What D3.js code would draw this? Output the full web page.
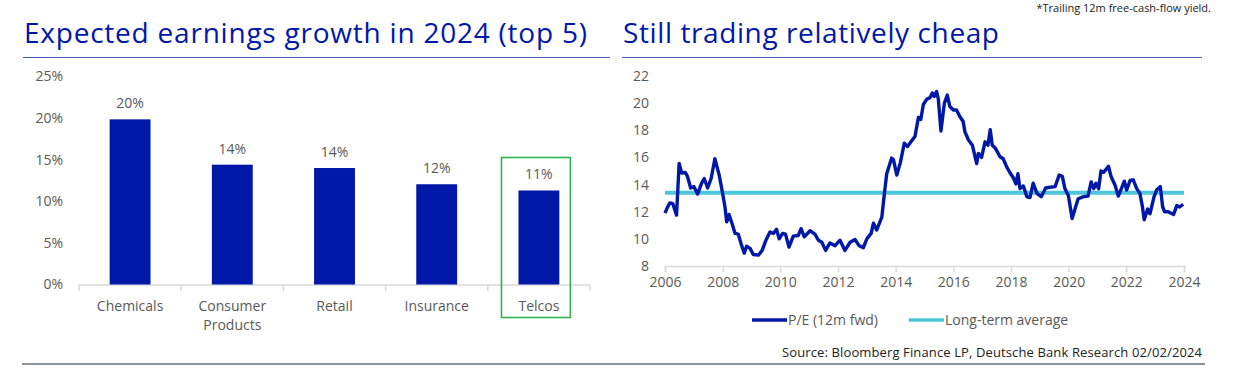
<!DOCTYPE html>
<html>
<head>
<meta charset="utf-8">
<script src="https://cdn.jsdelivr.net/npm/d3@7"></script>
<style>
  body { margin: 0; background: #fff; }
  text { font-family: "Open Sans", "Noto Sans", sans-serif; }
</style>
</head>
<body>
<div id="chart-area"></div>
<script>
// left chart data
var sectors = ['Chemicals', 'Consumer Products', 'Retail', 'Insurance', 'Telcos']
var growth = [19.85, 14.4, 14.0, 12.05, 11.3]
var growthTicks = [0, 5, 10, 15, 20, 25]

// right chart data (P/E 12m fwd)
var peYears = [2006.00, 2006.08, 2006.17, 2006.27, 2006.40, 2006.49, 2006.58, 2006.70, 2006.78, 2006.89,
  2007.00, 2007.13, 2007.27, 2007.36, 2007.48, 2007.60, 2007.73, 2007.88, 2007.99, 2008.08,
  2008.14, 2008.22, 2008.33, 2008.43, 2008.54, 2008.66, 2008.75, 2008.83, 2008.95, 2009.06,
  2009.24, 2009.37, 2009.50, 2009.64, 2009.76, 2009.87, 2009.96, 2010.08, 2010.18, 2010.30,
  2010.45, 2010.62, 2010.72, 2010.83, 2011.03, 2011.20, 2011.32, 2011.44, 2011.57, 2011.72,
  2011.90, 2012.07, 2012.24, 2012.42, 2012.59, 2012.73, 2012.88, 2013.00, 2013.15, 2013.23,
  2013.34, 2013.52, 2013.61, 2013.69, 2013.86, 2013.92, 2014.04, 2014.16, 2014.30, 2014.41,
  2014.53, 2014.67, 2014.79, 2014.87, 2014.96, 2015.08, 2015.19, 2015.27, 2015.34, 2015.42,
  2015.48, 2015.57, 2015.69, 2015.79, 2015.88, 2016.00, 2016.11, 2016.23, 2016.34, 2016.40,
  2016.52, 2016.66, 2016.81, 2016.87, 2016.98, 2017.10, 2017.20, 2017.28, 2017.35, 2017.45,
  2017.62, 2017.73, 2017.85, 2017.97, 2018.08, 2018.17, 2018.24, 2018.31, 2018.43, 2018.55,
  2018.66, 2018.77, 2018.90, 2019.05, 2019.20, 2019.35, 2019.53, 2019.67, 2019.78, 2019.87,
  2019.99, 2020.12, 2020.24, 2020.33, 2020.50, 2020.67, 2020.78, 2020.87, 2020.95, 2021.04,
  2021.12, 2021.21, 2021.29, 2021.38, 2021.47, 2021.61, 2021.72, 2021.81, 2021.93, 2022.01,
  2022.13, 2022.24, 2022.36, 2022.47, 2022.56, 2022.62, 2022.74, 2022.82, 2022.96, 2023.05,
  2023.18, 2023.26, 2023.33, 2023.45, 2023.64, 2023.75, 2023.85, 2023.97]
var peValues = [11.9, 12.3, 12.65, 12.6, 11.75, 15.55, 14.85, 14.9, 14.6, 13.75,
  13.85, 13.3, 14.1, 14.45, 13.75, 14.45, 15.9, 14.7, 13.45, 12.35,
  11.25, 11.8, 11.1, 10.4, 10.35, 9.5, 8.95, 9.45, 9.3, 8.85,
  8.8, 9.15, 9.9, 10.5, 10.4, 10.7, 10.0, 10.4, 10.35, 9.4,
  10.2, 10.25, 10.75, 10.15, 10.6, 10.35, 9.9, 9.75, 9.15, 9.7,
  9.5, 9.9, 9.15, 9.75, 9.95, 9.5, 9.35, 10.0, 10.4, 11.15,
  10.65, 11.6, 13.35, 14.8, 15.95, 15.85, 14.7, 15.6, 17.05, 16.8,
  17.15, 17.55, 18.95, 18.8, 19.9, 20.3, 20.4, 20.75, 20.5, 20.85,
  20.3, 17.95, 20.0, 20.6, 19.75, 19.5, 19.5, 19.0, 18.65, 17.9,
  17.3, 16.9, 15.55, 16.3, 16.0, 17.15, 16.9, 18.05, 16.9, 16.7,
  16.05, 15.9, 15.3, 14.85, 14.5, 14.05, 14.8, 13.7, 13.9, 13.1,
  13.05, 14.1, 13.35, 13.1, 13.75, 13.8, 13.85, 14.7, 14.6, 13.7,
  13.2, 11.5, 12.35, 12.95, 13.1, 13.15, 14.2, 13.7, 14.1, 13.7,
  15.0, 14.9, 15.1, 15.35, 14.6, 13.95, 13.15, 13.6, 14.25, 13.6,
  14.3, 14.35, 13.7, 13.35, 12.35, 11.4, 12.2, 11.85, 13.1, 13.6,
  13.85, 12.35, 12.0, 12.0, 11.8, 12.45, 12.35, 12.55]
var longTermAvg = 13.4
var peTicks = [8, 10, 12, 14, 16, 18, 20, 22]
var yearTicks = [2006, 2008, 2010, 2012, 2014, 2016, 2018, 2020, 2022, 2024]

var blue = '#0018a8'
var teal = '#4cc7da'
var grey = '#595959'

var svg = d3.select('#chart-area').append('svg')
    .attr('width', 1233)
    .attr('height', 374)

svg.append('rect').attr('width', 1233).attr('height', 374).attr('fill', '#fff')

// titles + rules
svg.append('text')
    .attr('x', 24).attr('y', 43)
    .attr('fill', blue)
    .attr('textLength', 563)
    .attr('lengthAdjust', 'spacing')
    .style('font-size', '28px')
    .text('Expected earnings growth in 2024 (top 5)')
svg.append('text')
    .attr('x', 623).attr('y', 43)
    .attr('fill', blue)
    .attr('textLength', 376)
    .attr('lengthAdjust', 'spacing')
    .style('font-size', '28px')
    .text('Still trading relatively cheap')
svg.append('line').attr('x1', 23).attr('x2', 610).attr('y1', 57.5).attr('y2', 57.5)
    .attr('stroke', '#4458b8').attr('stroke-width', 1)
svg.append('line').attr('x1', 622).attr('x2', 1202).attr('y1', 57.5).attr('y2', 57.5)
    .attr('stroke', '#4458b8').attr('stroke-width', 1)
svg.append('line').attr('x1', 22).attr('x2', 1205).attr('y1', 364).attr('y2', 364)
    .attr('stroke', '#8e949c').attr('stroke-width', 2)

svg.append('text')
    .attr('x', 1211).attr('y', 12)
    .attr('text-anchor', 'end')
    .attr('fill', '#222')
    .style('font-size', '11px')
    .text('*Trailing 12m free-cash-flow yield.')

// ---- left: bar chart ----
var band = d3.scaleBand()
    .domain(sectors)
    .range([79, 590])
    .paddingInner(0.6)
    .paddingOuter(0.3)

var yLeft = d3.scaleLinear()
    .domain([0, 25])
    .range([284.5, 76.5])

var yAxisLeft = svg.append('g')
    .attr('transform', 'translate(66,0)')
    .call(d3.axisLeft(yLeft).tickValues(growthTicks).tickSize(0).tickFormat(d => d + '%'))
yAxisLeft.select('.domain').remove()
yAxisLeft.selectAll('text')
    .attr('fill', grey)
    .style('font-size', '14px')
    .style('font-family', '"Open Sans", sans-serif')

svg.append('line')
    .attr('x1', 79).attr('x2', 590)
    .attr('y1', 285).attr('y2', 285)
    .attr('stroke', '#d9d9d9').attr('stroke-width', 1.5)

svg.selectAll('.cat-tick')
    .data(d3.range(sectors.length + 1))
    .enter()
    .append('line')
    .attr('x1', d => 79 + d * band.step())
    .attr('x2', d => 79 + d * band.step())
    .attr('y1', 285).attr('y2', 291)
    .attr('stroke', '#d9d9d9').attr('stroke-width', 1.5)

svg.selectAll('.bar')
    .data(sectors)
    .enter()
    .append('rect')
    .attr('x', d => band(d))
    .attr('y', (d, i) => yLeft(growth[i]))
    .attr('width', band.bandwidth())
    .attr('height', (d, i) => yLeft(0) - yLeft(growth[i]))
    .attr('fill', blue)

svg.selectAll('.val')
    .data(sectors)
    .enter()
    .append('text')
    .attr('x', d => band(d) + band.bandwidth() / 2)
    .attr('y', (d, i) => yLeft(growth[i]) - 11)
    .attr('text-anchor', 'middle')
    .attr('fill', grey)
    .style('font-size', '14px')
    .text((d, i) => Math.round(growth[i]) + '%')

svg.selectAll('.cat')
    .data(sectors)
    .enter()
    .append('text')
    .attr('x', d => band(d) + band.bandwidth() / 2)
    .attr('y', 311)
    .attr('text-anchor', 'middle')
    .attr('fill', grey)
    .style('font-size', '14px')
    .each(function (d) {
        var words = d.split(' ')
        var t = d3.select(this)
        words.forEach((w, j) => {
            t.append('tspan').attr('x', band(d) + band.bandwidth() / 2)
                .attr('dy', j === 0 ? 0 : 19).text(w)
        })
    })

// highlight box around Telcos
var tel = sectors[4]
svg.append('rect')
    .attr('x', band(tel) - 17)
    .attr('y', 157.5)
    .attr('width', band.bandwidth() + 28)
    .attr('height', 160)
    .attr('fill', 'none')
    .attr('stroke', '#2fb351')
    .attr('stroke-width', 1.6)

// ---- right: line chart ----
var xRight = d3.scaleLinear()
    .domain([2006, 2024])
    .range([665, 1184])

var yRight = d3.scaleLinear()
    .domain([8, 22])
    .range([266, 76])

var yAxisRight = svg.append('g')
    .attr('transform', 'translate(652,0)')
    .call(d3.axisLeft(yRight).tickValues(peTicks).tickSize(0).tickFormat(d3.format('d')))
yAxisRight.select('.domain').remove()
yAxisRight.selectAll('text')
    .attr('fill', grey)
    .style('font-size', '14px')
    .style('font-family', '"Open Sans", sans-serif')

var xAxisRight = svg.append('g')
    .attr('transform', 'translate(0,266)')
    .call(d3.axisBottom(xRight).tickValues(yearTicks).tickSize(6).tickPadding(5).tickFormat(d3.format('d')))
xAxisRight.select('.domain').attr('stroke', '#d9d9d9').attr('stroke-width', 1.5)
xAxisRight.selectAll('line').attr('stroke', '#d9d9d9').attr('stroke-width', 1.5)
xAxisRight.selectAll('text')
    .attr('fill', grey)
    .style('font-size', '14px')
    .style('font-family', '"Open Sans", sans-serif')

svg.append('line')
    .attr('x1', xRight(2006)).attr('x2', xRight(2024))
    .attr('y1', yRight(longTermAvg)).attr('y2', yRight(longTermAvg))
    .attr('stroke', teal).attr('stroke-width', 4)

var line = d3.line()
    .x((d, i) => xRight(peYears[i]))
    .y(d => yRight(d))

svg.append('path')
    .datum(peValues)
    .attr('d', line)
    .attr('fill', 'none')
    .attr('stroke', blue)
    .attr('stroke-width', 3.4)
    .attr('stroke-linejoin', 'round')

// legend
var legend = [{ name: 'P/E (12m fwd)', color: blue, x: 752 }, { name: 'Long-term average', color: teal, x: 909 }]
var lg = svg.selectAll('.lg')
    .data(legend)
    .enter()
    .append('g')
    .attr('transform', d => 'translate(' + d.x + ',320)')
lg.append('line').attr('x1', 0).attr('x2', 35).attr('stroke', d => d.color).attr('stroke-width', 3.5)
lg.append('text')
    .attr('x', 36).attr('y', 5)
    .attr('fill', grey)
    .style('font-size', '14px')
    .text(d => d.name)

svg.append('text')
    .attr('x', 1202).attr('y', 357)
    .attr('text-anchor', 'end')
    .attr('fill', '#222')
    .attr('textLength', 420)
    .attr('lengthAdjust', 'spacing')
    .style('font-size', '13px')
    .text('Source: Bloomberg Finance LP, Deutsche Bank Research 02/02/2024')
</script>
</body>
</html>
